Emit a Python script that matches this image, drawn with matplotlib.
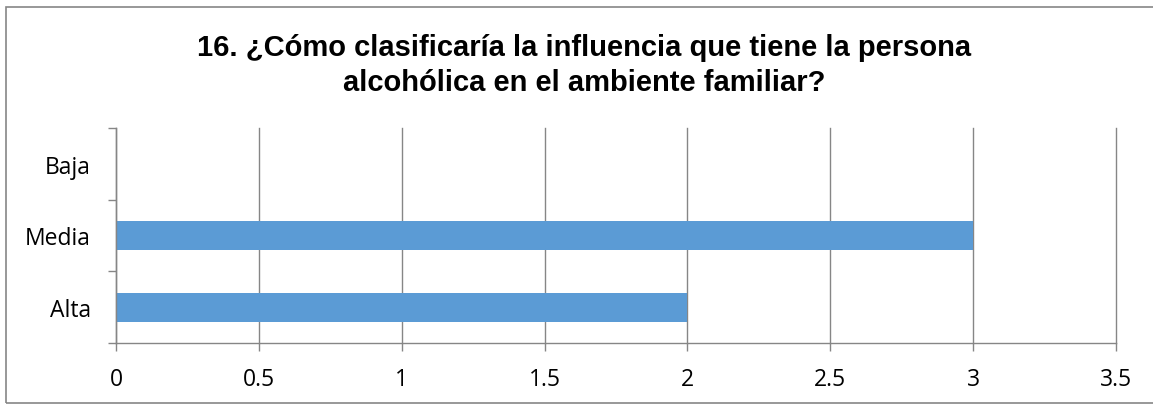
import numpy as np
from matplotlib import pyplot as plt
from matplotlib.patches import Rectangle
from matplotlib.ticker import FixedLocator

# data
categories = ['Alta', 'Media', 'Baja']
values = [2, 3, 0]
x_ticks = [0, 0.5, 1, 1.5, 2, 2.5, 3, 3.5]
x_labels = ['0', '0.5', '1', '1.5', '2', '2.5', '3', '3.5']
title_lines = ['16. ¿Cómo clasificaría la influencia que tiene la persona',
               'alcohólica en el ambiente familiar?']

barColor = '#5B9BD5'
lineColor = '#868686'
tickFont = 'Open Sans'
sizeTick = 16.5
sizeTitle = 21

fig = plt.figure(figsize=(11.53, 4.06), dpi=100)

# chart border (Excel chart area), right edge runs off the picture
fig.patches.append(Rectangle((6/1153, 1 - 404/406), 1.2, (404-8)/406,
                             transform=fig.transFigure, fill=False,
                             edgecolor=lineColor, lw=1.2))

ax = fig.add_axes([116/1153, 1 - 344/406, 1000/1153, 215/406])

ypos = np.arange(len(categories))
ax.barh(ypos, values, height=0.4, color=barColor, zorder=3)

ax.set_xlim(0, 3.5)
ax.set_ylim(-0.5, 2.5)

ax.set_xticks(x_ticks)
ax.set_xticklabels(x_labels, fontsize=sizeTick, family=tickFont)
ax.set_yticks(ypos)
ax.set_yticklabels(categories, fontsize=sizeTick, family=tickFont)
ax.yaxis.set_minor_locator(FixedLocator([-0.5, 0.5, 1.5, 2.5]))

ax.tick_params(axis='y', which='major', length=0, pad=18)
ax.tick_params(axis='y', which='minor', length=6, width=1, color=lineColor, direction='out')
ax.tick_params(axis='x', length=6, width=1, color=lineColor, direction='out', pad=11)

ax.grid(axis='x', color=lineColor, lw=1, zorder=0)
for gl in ax.get_xgridlines():
    gl.set_clip_on(False)
for s in ['top', 'right']:
    ax.spines[s].set_visible(False)
for s in ['left', 'bottom']:
    ax.spines[s].set_color(lineColor)
    ax.spines[s].set_linewidth(1)
    ax.spines[s].set_zorder(4)

fig.text(584/1153, 1 - 56/406, title_lines[0], ha='center', va='baseline',
         fontsize=sizeTitle, fontweight='bold', family='Liberation Sans')
fig.text(584/1153, 1 - 91/406, title_lines[1], ha='center', va='baseline',
         fontsize=sizeTitle, fontweight='bold', family='Liberation Sans')

fig.savefig('out.png', dpi=100)
